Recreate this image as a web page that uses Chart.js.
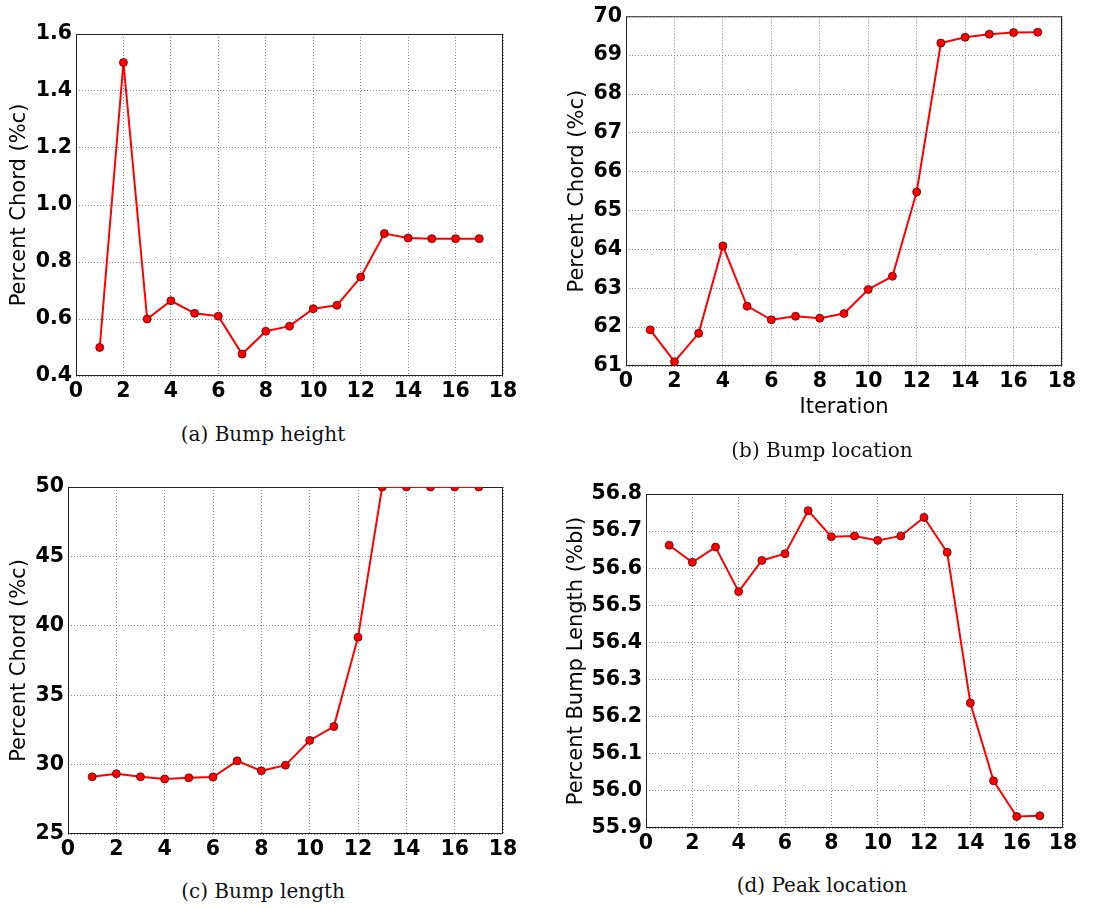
<!DOCTYPE html>
<html>
<head>
<meta charset="utf-8">
<script src="https://cdn.jsdelivr.net/npm/chart.js@4/dist/chart.umd.min.js"></script>
<style>
  body { margin: 0; background: #fff; width: 1102px; height: 908px; position: relative; overflow: hidden; }
  canvas { position: absolute; }
  .cap {
    position: absolute; transform: translate(-50%, -50%); white-space: nowrap;
    font-family: "DejaVu Serif", serif; font-size: 20px; color: #111;
  }
</style>
</head>
<body>
<canvas id="ca" width="540" height="412" style="left:0;top:0"></canvas>
<canvas id="cb" width="540" height="430" style="left:560px;top:0"></canvas>
<canvas id="cc" width="540" height="410" style="left:0;top:460px"></canvas>
<canvas id="cd" width="540" height="410" style="left:560px;top:460px"></canvas>
<div class="cap" style="left:263px;top:434px">(a) Bump height</div>
<div class="cap" style="left:822px;top:450px">(b) Bump location</div>
<div class="cap" style="left:263px;top:891px">(c) Bump length</div>
<div class="cap" style="left:822px;top:885px">(d) Peak location</div>
<script>
const Chart = window.Chart
Chart.defaults.font.family = '"DejaVu Sans", sans-serif'
Chart.defaults.color = "#000"
Chart.defaults.plugins.legend.display = false
Chart.defaults.plugins.tooltip.enabled = false

// --- data ---
const iterations = [1, 2, 3, 4, 5, 6, 7, 8, 9, 10, 11, 12, 13, 14, 15, 16, 17]
const bumpHeight = [0.50, 1.50, 0.60, 0.664, 0.62, 0.61, 0.477, 0.557, 0.575, 0.636, 0.648, 0.747, 0.90, 0.884, 0.882, 0.882, 0.882]
const bumpLocation = [61.93, 61.11, 61.84, 64.09, 62.54, 62.19, 62.28, 62.23, 62.35, 62.97, 63.31, 65.48, 69.31, 69.46, 69.54, 69.58, 69.59]
const bumpLength = [29.12, 29.34, 29.12, 28.96, 29.05, 29.10, 30.27, 29.55, 29.96, 31.74, 32.74, 39.17, 50, 50, 50, 50, 50]
const peakLocation = [56.662, 56.616, 56.657, 56.537, 56.621, 56.639, 56.755, 56.685, 56.687, 56.675, 56.687, 56.737, 56.643, 56.237, 56.027, 55.931, 55.933]

const xRange = [0, 18, 2]
const heightRange = [0.4, 1.6, 0.2]
const locationRange = [61, 70, 1]
const lengthRange = [25, 50, 5]
const peakRange = [55.9, 56.8, 0.1]

// black box around the plot area
const framePlugin = {
  id: "frame",
  beforeDatasetsDraw(chart) {
    const { ctx, chartArea: a } = chart
    ctx.save()
    ctx.strokeStyle = "#222"
    ctx.lineWidth = 1
    ctx.strokeRect(a.left + 0.5, a.top + 0.5, a.right - a.left - 1, a.bottom - a.top - 1)
    ctx.restore()
  },
}

const grid = { color: "#8a8a8a", lineWidth: 1, drawTicks: false }
const border = { display: false, dash: [1, 2] }
const tickFont = { size: 20.5, weight: "bold" }

function makeChart(id, values, range, opts) {
  const [ymin, ymax, ystep] = range
  const digits = ystep < 1 ? 1 : 0
  return new Chart(document.getElementById(id), {
    type: "line",
    plugins: [framePlugin],
    data: {
      datasets: [
        {
          data: iterations.map((x, i) => ({ x, y: values[i] })),
          borderColor: "#ff0000",
          borderWidth: 2,
          pointBackgroundColor: "#ff0000",
          pointBorderColor: "#500",
          pointBorderWidth: 0.8,
          pointRadius: 4,
          tension: 0,
          clip: 0,
        },
      ],
    },
    options: {
      responsive: false,
      animation: false,
      layout: { padding: { top: opts.top, right: opts.right, left: 0, bottom: 0 } },
      scales: {
        x: {
          type: "linear",
          min: xRange[0],
          max: xRange[1],
          grid,
          border,
          ticks: { stepSize: xRange[2], font: tickFont, padding: 3, maxRotation: 0 },
          title: opts.xTitle
            ? { display: true, text: opts.xTitle, font: { size: 21 }, padding: { top: 0, bottom: 10 } }
            : { display: false },
          afterFit: (s) => { s.height = opts.xh },
        },
        y: {
          min: ymin,
          max: ymax,
          grid,
          border,
          ticks: {
            stepSize: ystep,
            font: tickFont,
            padding: 4,
            callback: (v) => Number(v).toFixed(digits),
          },
          title: {
            display: true,
            text: opts.yTitle,
            font: { size: 21 },
            padding: { top: opts.yTitlePad, bottom: 0 },
          },
          afterFit: (s) => { s.width = opts.yw },
        },
      },
    },
  })
}

makeChart("ca", bumpHeight, heightRange, {
  top: 34, right: 37, yw: 76, xh: 36, yTitle: "Percent Chord (%c)", yTitlePad: 7,
})
makeChart("cb", bumpLocation, locationRange, {
  top: 16, right: 38, yw: 66, xh: 64, yTitle: "Percent Chord (%c)", yTitlePad: 5, xTitle: "Iteration",
})
makeChart("cc", bumpLength, lengthRange, {
  top: 27, right: 37, yw: 68, xh: 36, yTitle: "Percent Chord (%c)", yTitlePad: 7,
})
makeChart("cd", peakLocation, peakRange, {
  top: 34, right: 37, yw: 86, xh: 42, yTitle: "Percent Bump Length (%bl)", yTitlePad: 4,
})
</script>
</body>
</html>
